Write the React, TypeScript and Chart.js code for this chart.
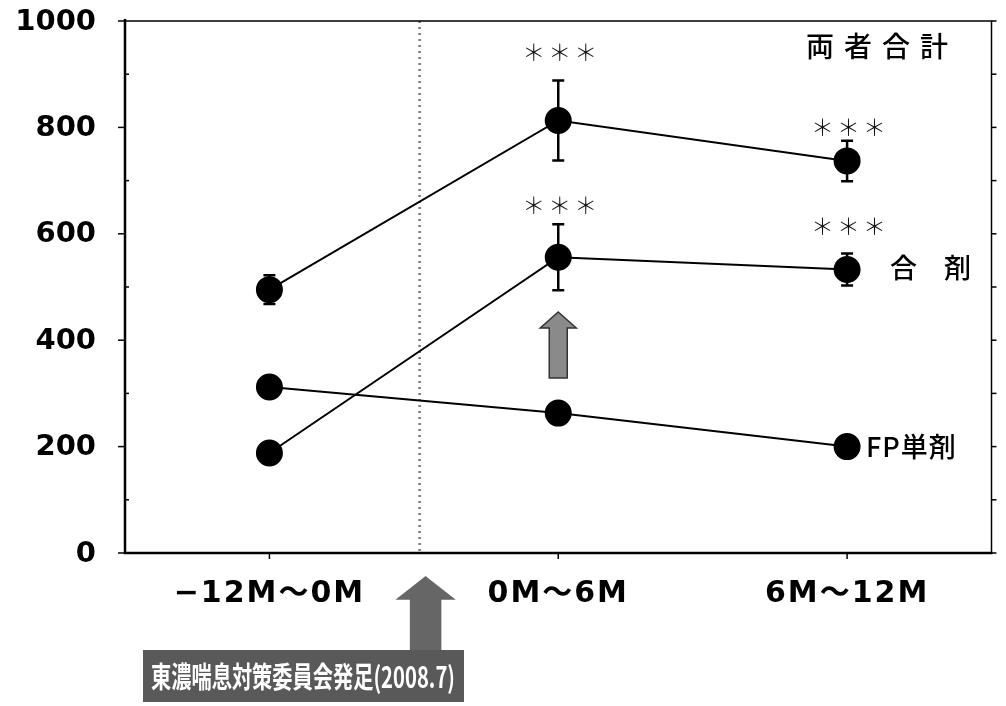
import React, { useEffect, useRef } from "react";
import { Chart, registerables } from "chart.js";

Chart.register(...registerables);

const categories = ["−12M～0M", "0M～6M", "6M～12M"];
const totalValues = [495, 813, 737];
const totalErrors = [27, 75, 38];
const comboValues = [188, 556, 533];
const comboErrors = [0, 62, 30];
const fpValues = [312, 263, 200];
const fpErrors = [0, 0, 0];
const yTicks = [0, 200, 400, 600, 800, 1000];
const seriesLabels = ["両者合計", "合　剤", "FP単剤"];
const starMarks = [
  { index: 1, value: 942 },
  { index: 2, value: 800 },
  { index: 1, value: 654 },
  { index: 2, value: 615 },
];
const eventIndex = 0.52;
const eventLabel = "東濃喘息対策委員会発足(2008.7)";

const JP = '"Noto Sans CJK JP", "Noto Sans", sans-serif';
const NUM = '"DejaVu Sans", "Noto Sans CJK JP", sans-serif';

function setSpacing(ctx: any, px: number) {
  if ("letterSpacing" in ctx) ctx.letterSpacing = px + "px";
}

function drawArrow(
  ctx: CanvasRenderingContext2D,
  cx: number,
  tip: number,
  bottom: number,
  shaftW: number,
  headW: number,
  headH: number,
  fill: string,
  stroke: string
) {
  ctx.beginPath();
  ctx.moveTo(cx, tip);
  ctx.lineTo(cx + headW / 2, tip + headH);
  ctx.lineTo(cx + shaftW / 2, tip + headH);
  ctx.lineTo(cx + shaftW / 2, bottom);
  ctx.lineTo(cx - shaftW / 2, bottom);
  ctx.lineTo(cx - shaftW / 2, tip + headH);
  ctx.lineTo(cx - headW / 2, tip + headH);
  ctx.closePath();
  ctx.fillStyle = fill;
  ctx.fill();
  ctx.strokeStyle = stroke;
  ctx.lineWidth = 1.5;
  ctx.stroke();
}

const overlayPlugin = {
  id: "overlay",
  beforeDatasetsDraw(chart: any) {
    const { ctx, chartArea, scales } = chart;
    const x = scales.x;
    const y = scales.y;
    ctx.save();
    setSpacing(ctx, 0);
    const ex = x.getPixelForValue(eventIndex);
    ctx.strokeStyle = "#777";
    ctx.lineWidth = 2.5;
    ctx.setLineDash([2, 4]);
    ctx.beginPath();
    ctx.moveTo(ex, chartArea.top);
    ctx.lineTo(ex, chartArea.bottom);
    ctx.stroke();
    ctx.setLineDash([]);
    ctx.strokeStyle = "#000";
    ctx.lineWidth = 1.5;
    ctx.beginPath();
    ctx.moveTo(chartArea.left, chartArea.top);
    ctx.lineTo(chartArea.right, chartArea.top);
    ctx.lineTo(chartArea.right, chartArea.bottom);
    ctx.stroke();
    ctx.lineWidth = 2.5;
    ctx.beginPath();
    ctx.moveTo(chartArea.left, chartArea.top - 2);
    ctx.lineTo(chartArea.left, chartArea.bottom);
    ctx.lineTo(chartArea.right + 1, chartArea.bottom);
    ctx.stroke();
    ctx.lineWidth = 1.5;
    for (let v = 0; v <= 1000; v += 100) {
      const py = y.getPixelForValue(v);
      ctx.beginPath();
      if (v % 200 === 0) {
        ctx.moveTo(chartArea.left - 7, py);
        ctx.lineTo(chartArea.left, py);
      } else {
        ctx.moveTo(chartArea.left, py);
        ctx.lineTo(chartArea.left + 4, py);
      }
      ctx.stroke();
      ctx.beginPath();
      ctx.moveTo(chartArea.right, py);
      ctx.lineTo(chartArea.right + 5, py);
      ctx.stroke();
    }
    for (let i = 0; i < categories.length; i++) {
      const px = x.getPixelForValue(i);
      ctx.beginPath();
      ctx.moveTo(px, chartArea.bottom);
      ctx.lineTo(px, chartArea.bottom + 6);
      ctx.stroke();
    }
    ctx.fillStyle = "#000";
    ctx.font = `bold 29px ${NUM}`;
    ctx.textAlign = "right";
    ctx.textBaseline = "middle";
    yTicks.forEach((v) => {
      ctx.fillText(String(v), 96, y.getPixelForValue(v) + 1);
    });
    ctx.font = `bold 30px ${NUM}`;
    ctx.textAlign = "center";
    setSpacing(ctx, 2);
    categories.forEach((c, i) => {
      ctx.fillText(c, x.getPixelForValue(i), chartArea.bottom + 41);
    });
    setSpacing(ctx, 0);
    ctx.restore();
  },
  afterDatasetsDraw(chart: any) {
    const { ctx, scales } = chart;
    const x = scales.x;
    const y = scales.y;
    ctx.save();
    setSpacing(ctx, 0);
    const sets: [number[], number[]][] = [
      [totalValues, totalErrors],
      [comboValues, comboErrors],
      [fpValues, fpErrors],
    ];
    ctx.strokeStyle = "#000";
    ctx.lineWidth = 2.5;
    sets.forEach(([vals, errs]) => {
      vals.forEach((v, i) => {
        const e = errs[i];
        if (!e) return;
        const px = x.getPixelForValue(i);
        const top = y.getPixelForValue(v + e);
        const bot = y.getPixelForValue(v - e);
        ctx.beginPath();
        ctx.moveTo(px, top);
        ctx.lineTo(px, bot);
        ctx.moveTo(px - 6, top);
        ctx.lineTo(px + 6, top);
        ctx.moveTo(px - 6, bot);
        ctx.lineTo(px + 6, bot);
        ctx.stroke();
      });
    });
    ctx.fillStyle = "#111";
    ctx.font = `300 23px ${JP}`;
    ctx.textAlign = "center";
    ctx.textBaseline = "middle";
    setSpacing(ctx, 3);
    starMarks.forEach((s) => {
      ctx.fillText("＊＊＊", x.getPixelForValue(s.index) + 3, y.getPixelForValue(s.value));
    });
    ctx.fillStyle = "#000";
    ctx.font = `500 28px ${JP}`;
    ctx.textAlign = "left";
    setSpacing(ctx, 10);
    ctx.fillText(seriesLabels[0], 806, 46);
    setSpacing(ctx, 0);
    ctx.font = `500 27px ${JP}`;
    ctx.fillText(seriesLabels[1], 890, y.getPixelForValue(comboValues[2]) - 2);
    ctx.font = `500 27px ${JP}`;
    setSpacing(ctx, 1);
    ctx.fillText(seriesLabels[2], 866, y.getPixelForValue(fpValues[2]));
    setSpacing(ctx, 0);
    const ax = x.getPixelForValue(1);
    drawArrow(ctx, ax, 312, 378, 18, 36, 16, "#8a8a8a", "#333");
    const ex = x.getPixelForValue(eventIndex) + 6;
    drawArrow(ctx, ex, 577, 652, 30, 56, 22, "#666", "#666");
    ctx.fillStyle = "#595959";
    ctx.fillRect(143, 650, 321, 52);
    ctx.fillStyle = "#fff";
    ctx.font = `bold 29px ${JP}`;
    ctx.textAlign = "left";
    ctx.textBaseline = "middle";
    const w = ctx.measureText(eventLabel).width;
    const target = 304;
    ctx.translate(151, 677);
    ctx.scale(target / w, 1);
    ctx.fillText(eventLabel, 0, 0);
    ctx.restore();
  },
};

export default function App() {
  const ref = useRef<HTMLCanvasElement | null>(null);
  useEffect(() => {
    if (!ref.current) return;
    const ds = (data: number[]) => ({
      data,
      borderColor: "#000",
      backgroundColor: "#000",
      borderWidth: 2,
      pointRadius: 12.5,
      pointHoverRadius: 12.5,
      pointBackgroundColor: "#000",
      pointBorderColor: "#000",
      tension: 0,
    });
    const chart = new Chart(ref.current, {
      type: "line",
      data: {
        labels: categories,
        datasets: [ds(totalValues), ds(comboValues), ds(fpValues)],
      },
      options: {
        responsive: false,
        animation: false,
        events: [],
        layout: { padding: { left: 0, right: 6, top: 21, bottom: 0 } },
        plugins: { legend: { display: false }, tooltip: { enabled: false } },
        scales: {
          x: {
            type: "category",
            offset: true,
            grid: { display: false },
            border: { display: false },
            ticks: { display: false },
            afterFit(scale: any) {
              scale.height = 153;
              scale.paddingLeft = 0;
              scale.paddingRight = 0;
            },
          },
          y: {
            min: 0,
            max: 1000,
            grid: { display: false },
            border: { display: false },
            ticks: { display: false, stepSize: 200 },
            afterFit(scale: any) {
              scale.width = 125;
              scale.paddingTop = 0;
              scale.paddingBottom = 0;
            },
          },
        },
      },
      plugins: [overlayPlugin],
    });
    return () => chart.destroy();
  }, []);
  return (
    <div style={{ position: "fixed", left: 0, top: 0, width: 1006, height: 706, background: "#fff" }}>
      <canvas ref={ref} width={1006} height={706} />
    </div>
  );
}
